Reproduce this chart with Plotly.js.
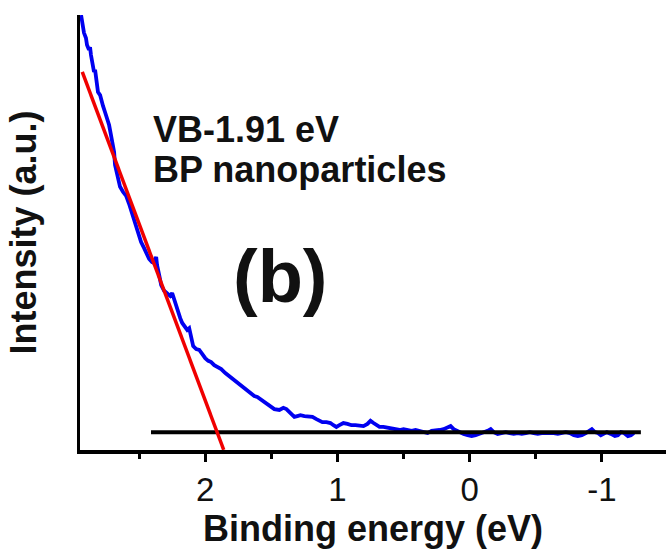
<!DOCTYPE html>
<html>
<head>
<meta charset="utf-8">
<script src="https://cdn.plot.ly/plotly-3.0.1.min.js"></script>
<style>
  html, body { margin: 0; padding: 0; background: #ffffff; }
  #chart { width: 666px; height: 551px; }
</style>
</head>
<body>
<div id="chart"></div>
<script>
// Valence-band XPS spectrum of BP nanoparticles
const bindingEnergy = [
  2.939, 2.932, 2.924, 2.917, 2.902, 2.894, 2.879, 2.871, 2.864, 2.856,
  2.848, 2.841, 2.833, 2.826, 2.818, 2.811, 2.795, 2.788, 2.773, 2.758,
  2.742, 2.727, 2.720, 2.705, 2.689, 2.682, 2.674, 2.659, 2.644, 2.621,
  2.598, 2.576, 2.561, 2.545, 2.530, 2.508, 2.485, 2.462, 2.439, 2.424,
  2.402, 2.386, 2.371, 2.364, 2.348, 2.333, 2.311, 2.288, 2.265, 2.250,
  2.235, 2.220, 2.205, 2.189, 2.174, 2.152, 2.136, 2.121, 2.106, 2.091,
  2.068, 2.045, 2.023, 2.000, 1.977, 1.955, 1.932, 1.909, 1.879, 1.848,
  1.818, 1.788, 1.765, 1.742, 1.720, 1.697, 1.674, 1.652, 1.629, 1.606,
  1.576, 1.545, 1.515, 1.477, 1.439, 1.409, 1.386, 1.356, 1.326, 1.303,
  1.280, 1.250, 1.220, 1.189, 1.159, 1.136, 1.114, 1.083, 1.053, 1.030,
  1.008, 0.985, 0.955, 0.924, 0.894, 0.864, 0.833, 0.803, 0.773, 0.750,
  0.727, 0.705, 0.682, 0.652, 0.621, 0.591, 0.561, 0.530, 0.500, 0.470,
  0.439, 0.409, 0.379, 0.348, 0.318, 0.288, 0.258, 0.227, 0.197, 0.167,
  0.144, 0.121, 0.098, 0.076, 0.045, 0.015, -0.015, -0.045, -0.076, -0.106,
  -0.136, -0.159, -0.182, -0.212, -0.242, -0.273, -0.303, -0.333, -0.364, -0.394,
  -0.424, -0.455, -0.485, -0.515, -0.545, -0.576, -0.606, -0.636, -0.667, -0.697,
  -0.727, -0.758, -0.788, -0.818, -0.848, -0.879, -0.902, -0.924, -0.947, -0.970,
  -0.992, -1.015, -1.038, -1.068, -1.098, -1.121, -1.144, -1.167, -1.197, -1.220,
  -1.242
];
const intensity = [
  100.0, 98.4, 96.6, 95.9, 94.7, 93.1, 92.0, 92.6, 90.8, 89.2,
  87.8, 86.9, 87.4, 85.1, 83.2, 82.3, 81.6, 80.5, 79.1, 77.7,
  76.3, 74.7, 73.6, 71.3, 68.5, 65.5, 64.4, 62.1, 60.5, 59.3,
  58.4, 56.6, 55.2, 53.3, 51.7, 49.9, 47.8, 46.4, 45.1, 43.9,
  43.2, 43.0, 44.4, 42.5, 40.2, 37.9, 36.6, 35.9, 35.4, 36.1,
  34.5, 33.6, 31.7, 30.3, 29.2, 28.3, 27.6, 28.0, 25.3, 23.9,
  23.2, 23.0, 22.1, 21.1, 20.5, 20.2, 19.5, 19.1, 18.6, 17.7,
  17.0, 16.3, 15.6, 15.2, 14.7, 14.0, 13.6, 13.1, 12.4, 12.2,
  11.5, 10.8, 10.1, 9.4, 9.2, 9.7, 9.4, 8.5, 7.6, 7.8,
  8.0, 7.8, 7.8, 7.6, 7.1, 6.7, 6.4, 6.4, 6.2, 5.7,
  5.3, 5.7, 6.2, 6.0, 5.7, 5.7, 5.5, 5.5, 6.0, 6.7,
  6.2, 5.7, 5.3, 5.3, 5.1, 5.1, 4.8, 4.6, 4.8, 4.6,
  4.4, 4.6, 4.4, 4.1, 3.9, 4.4, 4.4, 4.6, 4.8, 5.1,
  5.5, 4.8, 4.4, 4.1, 3.7, 3.4, 3.2, 3.4, 3.7, 3.9,
  4.4, 4.8, 4.1, 3.7, 3.9, 4.1, 3.9, 3.7, 3.9, 3.7,
  3.9, 4.1, 3.9, 3.7, 3.9, 3.9, 4.1, 3.9, 3.7, 3.9,
  4.1, 3.9, 3.4, 3.2, 3.4, 3.9, 4.4, 4.8, 4.1, 3.9,
  3.4, 3.7, 4.1, 3.7, 3.2, 3.4, 4.1, 3.9, 3.2, 3.4,
  3.9
];

// Background level and linear extrapolation of the leading edge
const baselineLevel = 4.1;
const baselineRange = [2.41, -1.295];
const vbOnset = 1.91;           // eV, where the edge fit meets the background
const edgeSlope = 81.2;         // intensity per eV
const edgeRange = [2.93, 1.86];

const xTicks = [2, 1, 0, -1];
const xTickText = ['2', '1', '0', '-1'];
const xRange = [2.947, -1.485];
const yRange = [0, 100];

const labelLines = ['VB-1.91 eV', 'BP nanoparticles'];
const panelTag = '(b)';

const fitY = edgeRange.map(x => baselineLevel + edgeSlope * (x - vbOnset));

const font = 'Arial, "Liberation Sans", sans-serif';

const traces = [
  {
    x: bindingEnergy, y: intensity, type: 'scatter', mode: 'lines',
    line: { color: '#0000f0', width: 3.8 }, hoverinfo: 'skip'
  },
  {
    x: baselineRange, y: [baselineLevel, baselineLevel], type: 'scatter', mode: 'lines',
    line: { color: '#000000', width: 4 }, hoverinfo: 'skip'
  },
  {
    x: edgeRange, y: fitY, type: 'scatter', mode: 'lines',
    line: { color: '#f00000', width: 3.5 }, hoverinfo: 'skip'
  }
];

const layout = {
  width: 666, height: 551,
  margin: { l: 80, r: 0, t: 15, b: 101 },
  paper_bgcolor: '#ffffff', plot_bgcolor: '#ffffff',
  showlegend: false,
  font: { family: font, color: '#111111' },
  xaxis: {
    range: xRange,
    tickvals: xTicks, ticktext: xTickText,
    ticks: 'outside', ticklen: 8, tickwidth: 3, tickcolor: '#000000',
    minor: { dtick: 0.5, tick0: 0, ticks: 'outside', ticklen: 5, tickwidth: 3, tickcolor: '#000000' },
    showline: true, linecolor: '#000000', linewidth: 3.5,
    showgrid: false, zeroline: false,
    tickfont: { family: font, size: 33, color: '#111111' },
    title: { text: 'Binding energy (eV)', font: { family: font, size: 36, color: '#111111', weight: 'bold' }, standoff: 8 }
  },
  yaxis: {
    range: yRange,
    showticklabels: false, ticks: '',
    showline: true, linecolor: '#000000', linewidth: 3.5,
    showgrid: false, zeroline: false,
    title: { text: 'Intensity (a.u.)', font: { family: font, size: 36, color: '#111111', weight: 'bold' }, standoff: 30 }
  },
  annotations: [
    { text: labelLines[0], xref: 'paper', yref: 'paper', x: 0.121, y: 0.736,
      xanchor: 'left', yanchor: 'middle', showarrow: false,
      font: { family: font, size: 36, color: '#111111', weight: 'bold' } },
    { text: labelLines[1], xref: 'paper', yref: 'paper', x: 0.121, y: 0.644,
      xanchor: 'left', yanchor: 'middle', showarrow: false,
      font: { family: font, size: 36, color: '#111111', weight: 'bold' } },
    { text: panelTag, xref: 'paper', yref: 'paper', x: 0.343, y: 0.398,
      xanchor: 'center', yanchor: 'middle', showarrow: false,
      font: { family: font, size: 74, color: '#111111', weight: 'bold' } }
  ]
};

Plotly.newPlot('chart', traces, layout, { displayModeBar: false, staticPlot: true });
</script>
</body>
</html>
